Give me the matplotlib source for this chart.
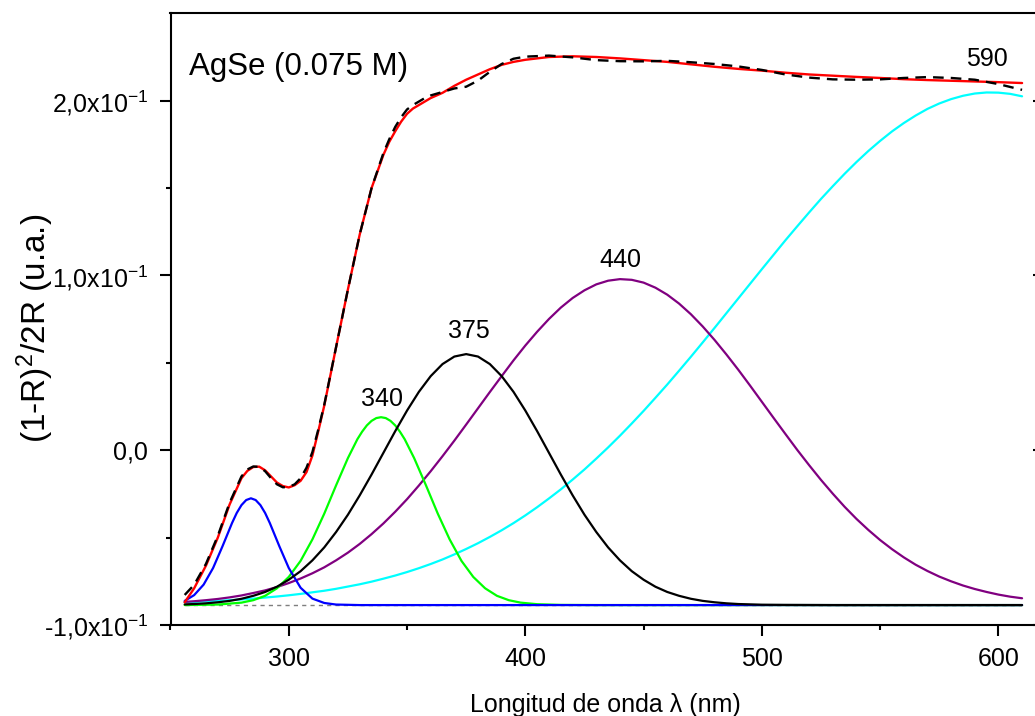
import matplotlib
matplotlib.use("Agg")
import matplotlib.pyplot as plt
from matplotlib.ticker import FixedLocator

plt.rcParams['font.family'] = ['Liberation Sans', 'DejaVu Sans']
plt.rcParams['mathtext.fontset'] = 'custom'
plt.rcParams['mathtext.rm'] = 'Liberation Sans'
plt.rcParams['mathtext.it'] = 'Liberation Sans:italic'
plt.rcParams['mathtext.bf'] = 'Liberation Sans:bold'

# ---------------- data ----------------
wl_sum = [256, 260, 265, 270, 275, 280, 282.5, 285, 287.5, 290, 292.5, 295, 297.5, 300,
          302.5, 305, 307.5, 310, 312.5, 315, 320, 325, 330, 335, 340, 342.5, 345, 347.5,
          350, 352.5, 355, 357.5, 360, 365, 370, 375, 380, 385, 390, 395, 400,
          410, 420, 430, 440, 450, 460, 470, 480, 490, 500, 510, 520, 530, 540, 550,
          560, 570, 580, 590, 600, 610]
fit_total = [-0.0870, -0.0790, -0.0660, -0.0500, -0.0310, -0.0160, -0.0118, -0.0096,
             -0.0094, -0.0115, -0.0150, -0.0185, -0.0205, -0.0213, -0.0200, -0.0175,
             -0.0125, -0.0030, 0.0110, 0.0255, 0.0590, 0.0920, 0.1235, 0.1500, 0.1690,
             0.1765, 0.1825, 0.1880, 0.1925, 0.1955, 0.1975, 0.1995, 0.2015, 0.2045,
             0.2085, 0.2120, 0.2150, 0.2180, 0.2205, 0.2222, 0.2234, 0.2250, 0.2254,
             0.2250, 0.2242, 0.2232, 0.2222, 0.2208, 0.2194, 0.2182, 0.2172, 0.2160,
             0.2150, 0.2143, 0.2136, 0.2130, 0.2123, 0.2118, 0.2114, 0.2110, 0.2106, 0.2101]
experimental = [-0.0828, -0.0770, -0.0650, -0.0490, -0.0300, -0.0150, -0.0110, -0.0093,
                -0.0095, -0.0120, -0.0160, -0.0195, -0.0212, -0.0210, -0.0195, -0.0160,
                -0.0100, -0.0010, 0.0120, 0.0260, 0.0590, 0.0920, 0.1235, 0.1500, 0.1700,
                0.1780, 0.1850, 0.1905, 0.1950, 0.1975, 0.1995, 0.2015, 0.2030, 0.2050,
                0.2070, 0.2080, 0.2115, 0.2165, 0.2210, 0.2240, 0.2252, 0.2258, 0.2248,
                0.2232, 0.2226, 0.2225, 0.2228, 0.2220, 0.2210, 0.2196, 0.2176, 0.2150,
                0.2132, 0.2122, 0.2120, 0.2122, 0.2130, 0.2135, 0.2130, 0.2120, 0.2095, 0.2062]

wl_285 = [256, 260, 264, 268, 272, 276, 278, 280, 282, 284, 286, 288, 290, 292, 296, 300,
          305, 310, 315, 320, 330, 610]
peak_285 = [-0.0862, -0.0829, -0.0769, -0.0674, -0.0549, -0.0417, -0.0359, -0.0314, -0.0285,
            -0.0275, -0.0285, -0.0314, -0.0359, -0.0417, -0.0549, -0.0674, -0.0787, -0.0849,
            -0.0874, -0.0883, -0.0886, -0.0886]

wl_340 = [256, 270, 280, 285, 290, 295, 300, 305, 310, 315, 320, 325, 329, 331, 333, 335,
          337, 339, 341, 343, 345, 347, 349, 353, 358, 363, 368, 373, 378, 383, 388, 393,
          398, 405, 415, 430, 610]
peak_340 = [-0.0886, -0.0883, -0.0872, -0.0858, -0.0833, -0.0790, -0.0725, -0.0633, -0.0510,
            -0.0363, -0.0201, -0.0045, 0.0063, 0.0106, 0.0142, 0.0168, 0.0184, 0.0189, 0.0184,
            0.0168, 0.0142, 0.0106, 0.0063, -0.0045, -0.0201, -0.0363, -0.0510, -0.0633,
            -0.0725, -0.0790, -0.0833, -0.0858, -0.0872, -0.0881, -0.0885, -0.0886, -0.0886]

wl_375 = [256, 260, 265, 270, 275, 280, 285, 290, 295, 300, 305, 310, 315, 320, 325, 330,
          335, 340, 345, 350, 355, 360, 365, 370, 375, 380, 385, 390, 395, 400, 405, 410,
          415, 420, 425, 430, 435, 440, 445, 450, 455, 460, 465, 470, 475, 480, 485, 490,
          495, 500, 510, 530, 610]
peak_375 = [-0.0882, -0.0880, -0.0876, -0.0870, -0.0862, -0.0850, -0.0833, -0.0811, -0.0781,
            -0.0741, -0.0692, -0.0630, -0.0556, -0.0468, -0.0369, -0.0258, -0.0139, -0.0015,
            0.0109, 0.0227, 0.0334, 0.0424, 0.0493, 0.0536, 0.0550, 0.0536, 0.0493, 0.0424,
            0.0334, 0.0227, 0.0109, -0.0015, -0.0139, -0.0258, -0.0369, -0.0468, -0.0556,
            -0.0630, -0.0692, -0.0741, -0.0781, -0.0811, -0.0833, -0.0850, -0.0862, -0.0870,
            -0.0876, -0.0880, -0.0882, -0.0884, -0.0885, -0.0886, -0.0886]

wl_broad = [256, 260, 265, 270, 275, 280, 285, 290, 295, 300, 305, 310, 315, 320, 325, 330,
            335, 340, 345, 350, 355, 360, 365, 370, 375, 380, 385, 390, 395, 400, 405, 410,
            415, 420, 425, 430, 435, 440, 445, 450, 455, 460, 465, 470, 475, 480, 485, 490,
            495, 500, 505, 510, 515, 520, 525, 530, 535, 540, 545, 550, 555, 560, 565, 570,
            575, 580, 585, 590, 595, 600, 605, 610]
peak_440 = [-0.0868, -0.0864, -0.0858, -0.0851, -0.0842, -0.0831, -0.0817, -0.0802, -0.0783,
            -0.0760, -0.0734, -0.0704, -0.0670, -0.0630, -0.0586, -0.0536, -0.0480, -0.0419,
            -0.0352, -0.0280, -0.0202, -0.0120, -0.0034, 0.0055, 0.0147, 0.0240, 0.0333,
            0.0424, 0.0514, 0.0599, 0.0678, 0.0751, 0.0816, 0.0871, 0.0915, 0.0949, 0.0970,
            0.0979, 0.0975, 0.0959, 0.0930, 0.0890, 0.0839, 0.0778, 0.0708, 0.0631, 0.0548,
            0.0461, 0.0370, 0.0277, 0.0184, 0.0092, 0.0001, -0.0086, -0.0170, -0.0249,
            -0.0324, -0.0393, -0.0456, -0.0514, -0.0566, -0.0613, -0.0655, -0.0691, -0.0723,
            -0.0750, -0.0774, -0.0794, -0.0811, -0.0826, -0.0838, -0.0847]
peak_590 = [-0.0870, -0.0868, -0.0865, -0.0862, -0.0858, -0.0854, -0.0849, -0.0843, -0.0837,
            -0.0830, -0.0822, -0.0813, -0.0804, -0.0793, -0.0780, -0.0767, -0.0752, -0.0735,
            -0.0717, -0.0697, -0.0675, -0.0651, -0.0625, -0.0596, -0.0565, -0.0532, -0.0496,
            -0.0458, -0.0417, -0.0373, -0.0326, -0.0276, -0.0224, -0.0168, -0.0110, -0.0048,
            0.0016, 0.0083, 0.0153, 0.0225, 0.0300, 0.0376, 0.0455, 0.0535, 0.0617, 0.0700,
            0.0784, 0.0868, 0.0952, 0.1036, 0.1119, 0.1202, 0.1282, 0.1361, 0.1438, 0.1511,
            0.1582, 0.1649, 0.1712, 0.1770, 0.1824, 0.1872, 0.1915, 0.1953, 0.1984, 0.2009,
            0.2028, 0.2041, 0.2047, 0.2046, 0.2039, 0.2025]

baseline_wl = [256, 610]
baseline_val = [-0.0886, -0.0886]

peak_labels = ["340", "375", "440", "590"]
peak_label_x = [339.6, 376.3, 440.0, 595.3]
peak_label_y = [0.0292, 0.0680, 0.1086, 0.2240]

y_ticks = [-0.1, 0.0, 0.1, 0.2]
y_tick_labels = [r"-1,0x10$^{\mathregular{-1}}$", "0,0",
                 r"1,0x10$^{\mathregular{-1}}$", r"2,0x10$^{\mathregular{-1}}$"]
x_ticks = [300, 400, 500, 600]
sample_label = "AgSe (0.075 M)"

# ---------------- figure ----------------
W, H = 1035, 716
fig = plt.figure(figsize=(W / 100, H / 100), dpi=100)
ax = fig.add_axes([170.5 / W, 91 / H, (1041 - 170.5) / W, (625 - 13.3) / H])

kw = dict(solid_joinstyle='round', solid_capstyle='round')
ax.plot(baseline_wl, baseline_val, color='#7f7f7f', lw=1.0, ls=(0, (3, 3)), zorder=1)
ax.plot(wl_broad, peak_590, color='#00ffff', lw=1.6, zorder=2, **kw)
ax.plot(wl_broad, peak_440, color='#800080', lw=1.6, zorder=3, **kw)
ax.plot(wl_340, peak_340, color='#00ff00', lw=1.6, zorder=4, **kw)
ax.plot(wl_285, peak_285, color='#0000ff', lw=1.6, zorder=5, **kw)
ax.plot(wl_375, peak_375, color='black', lw=1.6, zorder=6, **kw)
ax.plot(wl_sum, fit_total, color='#ff0000', lw=1.7, zorder=7, **kw)
ax.plot(wl_sum, experimental, color='black', lw=1.7, ls=(0, (4.5, 3.0)), zorder=8)

ax.set_xlim(250, 618)
ax.set_ylim(-0.1, 0.25)

for s in ax.spines.values():
    s.set_linewidth(1.5)

ax.xaxis.set_major_locator(FixedLocator(x_ticks))
ax.xaxis.set_minor_locator(FixedLocator([250, 350, 450, 550]))
ax.set_yticks(y_ticks)
ax.set_yticklabels(y_tick_labels)
ax.yaxis.set_minor_locator(FixedLocator([-0.05, 0.05, 0.15]))
ax.tick_params(axis='both', which='major', direction='out', length=8.0, width=1.5,
               labelsize=18, pad=8)
ax.tick_params(axis='both', which='minor', direction='out', length=3.8, width=1.5)
ax.tick_params(top=False, right=False)

sec = ax.secondary_yaxis('right')
sec.set_yticks(y_ticks)
sec.tick_params(direction='in', length=5.8, width=1.5, labelright=False)

ax.set_xlabel("Longitud de onda λ (nm)", fontsize=18, labelpad=16)
fig.text(35 / W, 1 - 328 / H, r"(1-R)$^{\mathregular{2}}$/2R (u.a.)", fontsize=24,
         rotation=90, ha='center', va='center')

ax.text(0.021, 0.8996, sample_label, transform=ax.transAxes, fontsize=22.5,
        ha='left', va='baseline')
for t, x, y in zip(peak_labels, peak_label_x, peak_label_y):
    ax.text(x, y, t, fontsize=18, ha='center', va='center')

fig.savefig("out.png", dpi=100)
